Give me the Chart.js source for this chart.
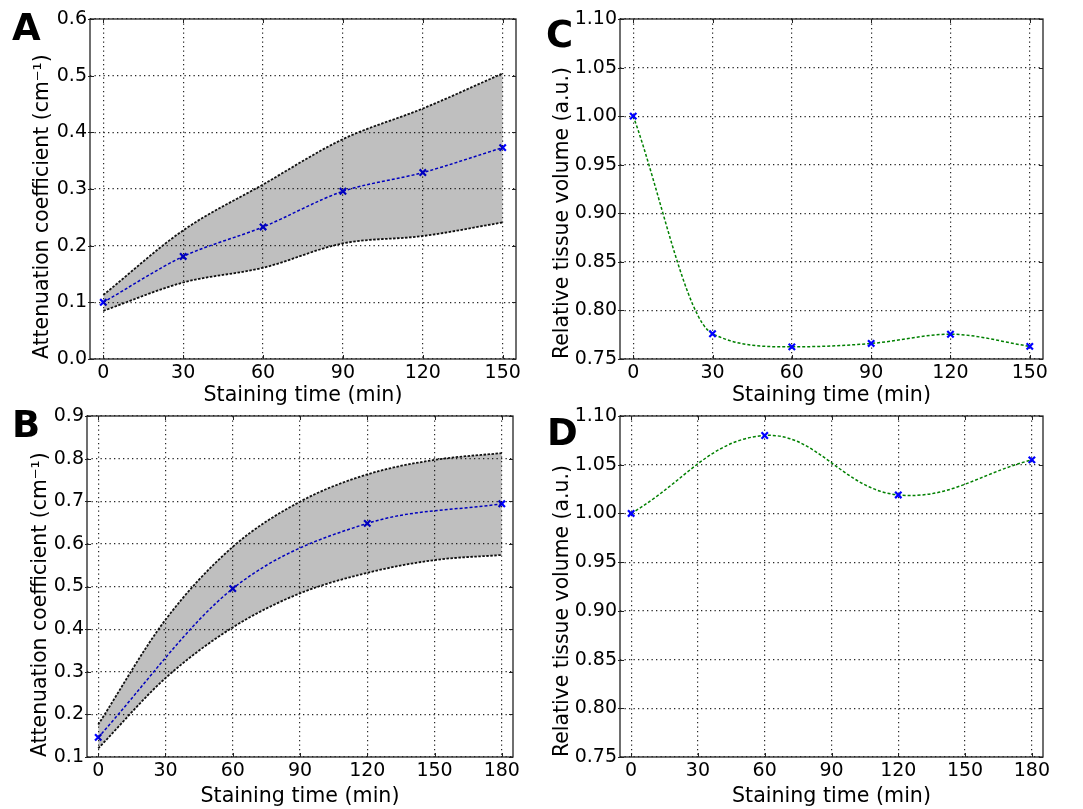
<!DOCTYPE html>
<html><head><meta charset="utf-8">
<script src="https://cdn.jsdelivr.net/npm/chart.js@4.4.0/dist/chart.umd.min.js"></script>
<style>
html,body{margin:0;padding:0;background:#fff;}
body{width:1083px;height:809px;overflow:hidden;position:relative;}
canvas{position:absolute;}
</style></head><body>
<canvas id="cA" width="540" height="410" style="left:0;top:0"></canvas>
<canvas id="cC" width="543" height="410" style="left:540px;top:0"></canvas>
<canvas id="cB" width="540" height="409" style="left:0;top:400px"></canvas>
<canvas id="cD" width="543" height="409" style="left:540px;top:400px"></canvas>
<script>
// ---------- DATA ----------
// Panel A: attenuation coefficient vs staining time
const A_time  = [0, 30, 60, 90, 120, 150];
const A_mean  = [0.100, 0.181, 0.233, 0.296, 0.329, 0.373];
const A_upper = [0.113, 0.227, 0.308, 0.388, 0.442, 0.504];
const A_lower = [0.085, 0.135, 0.161, 0.204, 0.217, 0.241];
const A_xticks = [0, 30, 60, 90, 120, 150];
const A_yticks = [0.0, 0.1, 0.2, 0.3, 0.4, 0.5, 0.6];

// Panel B: attenuation coefficient vs staining time
const B_time      = [0, 60, 120, 180];
const B_mean      = [0.146, 0.495, 0.648, 0.694];
const B_band_time = [0, 30, 60, 90, 120, 150, 180];
const B_upper     = [0.176, 0.422, 0.593, 0.699, 0.763, 0.797, 0.813];
const B_lower     = [0.120, 0.285, 0.404, 0.484, 0.532, 0.562, 0.574];
const B_xticks = [0, 30, 60, 90, 120, 150, 180];
const B_yticks = [0.1, 0.2, 0.3, 0.4, 0.5, 0.6, 0.7, 0.8, 0.9];

// Panel C: relative tissue volume
const C_time   = [0, 30, 60, 90, 120, 150];
const C_volume = [1.000, 0.776, 0.7625, 0.766, 0.7755, 0.763];
const C_xticks = [0, 30, 60, 90, 120, 150];
const C_yticks = [0.75, 0.80, 0.85, 0.90, 0.95, 1.00, 1.05, 1.10];

// Panel D: relative tissue volume
const D_time   = [0, 60, 120, 180];
const D_volume = [1.000, 1.080, 1.019, 1.055];
const D_xticks = [0, 30, 60, 90, 120, 150, 180];
const D_yticks = [0.75, 0.80, 0.85, 0.90, 0.95, 1.00, 1.05, 1.10];

// ---------- HELPERS ----------
const FONT = "'DejaVu Sans', sans-serif";
const pts = (xs, ys) => xs.map((x, i) => ({x: x, y: ys[i]}));

const framePlugin = {
  id: 'frame',
  afterDraw(chart, args, opts) {
    const ctx = chart.ctx;
    const {left, top, right, bottom} = chart.chartArea;
    ctx.save();
    ctx.strokeStyle = '#222';
    ctx.lineWidth = 1.3;
    ctx.strokeRect(left, top, right - left, bottom - top);
    const xs = chart.scales.x, ys = chart.scales.y;
    ctx.lineWidth = 1;
    ctx.beginPath();
    xs.ticks.forEach(t => {
      const p = Math.round(xs.getPixelForValue(t.value)) + 0.5;
      ctx.moveTo(p, bottom); ctx.lineTo(p, bottom - 4);
      ctx.moveTo(p, top); ctx.lineTo(p, top + 4);
    });
    ys.ticks.forEach(t => {
      const p = Math.round(ys.getPixelForValue(t.value)) + 0.5;
      ctx.moveTo(left - 2, p); ctx.lineTo(left + 4, p);
      ctx.moveTo(right, p); ctx.lineTo(right - 4, p);
    });
    ctx.stroke();
    ctx.fillStyle = '#000';
    ctx.font = "bold 37px " + FONT;
    ctx.textBaseline = 'alphabetic';
    ctx.textAlign = 'left';
    ctx.fillText(opts.letter, opts.lx, opts.ly);
    ctx.restore();
  }
};

function makeChart(id, c) {
  new Chart(document.getElementById(id), {
    type: 'line',
    data: {datasets: c.datasets},
    plugins: [framePlugin],
    options: {
      responsive: false,
      animation: false,
      layout: {padding: {left: 0, top: c.padTop, right: c.padRight, bottom: 0}},
      plugins: {
        legend: {display: false},
        tooltip: {enabled: false},
        frame: {letter: c.letter, lx: c.lx, ly: c.ly}
      },
      scales: {
        x: {
          type: 'linear', min: c.xmin, max: c.xmax,
          afterBuildTicks: s => { s.ticks = c.xticks.map(v => ({value: v})); },
          afterFit: s => { s.height = c.hX; },
          ticks: {color: '#000', font: {family: FONT, size: 19}, padding: 3, maxRotation: 0,
                  callback: v => String(v)},
          grid: {color: 'rgba(0,0,0,0.85)', lineWidth: 1.2, drawTicks: false},
          border: {display: false, dash: [1.3, 3.2]},
          title: {display: true, text: 'Staining time (min)', color: '#000',
                  font: {family: FONT, size: 20.6}, padding: {top: 0, bottom: c.xTitlePad}}
        },
        y: {
          type: 'linear', min: c.ymin, max: c.ymax,
          afterBuildTicks: s => { s.ticks = c.yticks.map(v => ({value: v})); },
          afterFit: s => { s.width = c.wY; },
          ticks: {color: '#000', font: {family: FONT, size: 19}, padding: 3,
                  callback: v => v.toFixed(c.dec)},
          grid: {color: 'rgba(0,0,0,0.85)', lineWidth: 1.2, drawTicks: false},
          border: {display: false, dash: [1.3, 3.2]},
          title: {display: true, text: c.ytitle, color: '#000', align: 'start',
                  font: {family: FONT, size: 20.4}, padding: {top: c.yTitlePad, bottom: 0}}
        }
      }
    }
  });
}

const bandStyle = {
  borderColor: '#111', borderWidth: 1.8, borderDash: [2.5, 1.5],
  pointRadius: 0, cubicInterpolationMode: 'monotone'
};
const markerStyle = {
  pointStyle: 'crossRot', pointRadius: 4.5, pointBorderWidth: 2.2,
  pointBorderColor: '#0000ff', pointBackgroundColor: '#0000ff'
};

// ---------- PANEL A ----------
makeChart('cA', {
  letter: 'A', lx: 12, ly: 40,
  padTop: 19, padRight: 24, wY: 90, hX: 51, xTitlePad: 2, yTitlePad: 30,
  xmin: -5, xmax: 155, ymin: 0, ymax: 0.6, dec: 1,
  xticks: A_xticks, yticks: A_yticks,
  ytitle: 'Attenuation coefficient (cm\u207B\u00B9)',
  datasets: [
    Object.assign({data: pts(A_time, A_upper), fill: '+1', backgroundColor: 'rgba(0,0,0,0.25)'}, bandStyle),
    Object.assign({data: pts(A_time, A_lower), fill: false}, bandStyle),
    Object.assign({data: pts(A_time, A_mean), borderColor: '#0000ff', borderWidth: 1.5,
                   borderDash: [3, 2], tension: 0.3, fill: false}, markerStyle)
  ]
});

// ---------- PANEL B ----------
makeChart('cB', {
  letter: 'B', lx: 12, ly: 37,
  padTop: 16, padRight: 27, wY: 87, hX: 52, xTitlePad: 0, yTitlePad: 28,
  xmin: -5, xmax: 185, ymin: 0.1, ymax: 0.9, dec: 1,
  xticks: B_xticks, yticks: B_yticks,
  ytitle: 'Attenuation coefficient (cm\u207B\u00B9)',
  datasets: [
    Object.assign({data: pts(B_band_time, B_upper), fill: '+1', backgroundColor: 'rgba(0,0,0,0.25)'}, bandStyle),
    Object.assign({data: pts(B_band_time, B_lower), fill: false}, bandStyle),
    Object.assign({data: pts(B_time, B_mean), borderColor: '#0000ff', borderWidth: 1.5,
                   borderDash: [3, 2], cubicInterpolationMode: 'monotone', fill: false}, markerStyle)
  ]
});

// ---------- PANEL C ----------
makeChart('cC', {
  letter: 'C', lx: 6, ly: 47,
  padTop: 19, padRight: 40, wY: 80, hX: 51, xTitlePad: 2, yTitlePad: 10,
  xmin: -5, xmax: 155, ymin: 0.75, ymax: 1.10, dec: 2,
  xticks: C_xticks, yticks: C_yticks,
  ytitle: 'Relative tissue volume (a.u.)',
  datasets: [
    Object.assign({data: pts(C_time, C_volume), borderColor: '#008000', borderWidth: 1.5,
                   borderDash: [3, 2], cubicInterpolationMode: 'monotone', fill: false}, markerStyle)
  ]
});

// ---------- PANEL D ----------
makeChart('cD', {
  letter: 'D', lx: 7, ly: 45,
  padTop: 16, padRight: 40, wY: 80, hX: 52, xTitlePad: 0, yTitlePad: 10,
  xmin: -5, xmax: 185, ymin: 0.75, ymax: 1.10, dec: 2,
  xticks: D_xticks, yticks: D_yticks,
  ytitle: 'Relative tissue volume (a.u.)',
  datasets: [
    Object.assign({data: pts(D_time, D_volume), borderColor: '#008000', borderWidth: 1.5,
                   borderDash: [3, 2], tension: 0.4, fill: false}, markerStyle)
  ]
});
</script>
</body></html>
